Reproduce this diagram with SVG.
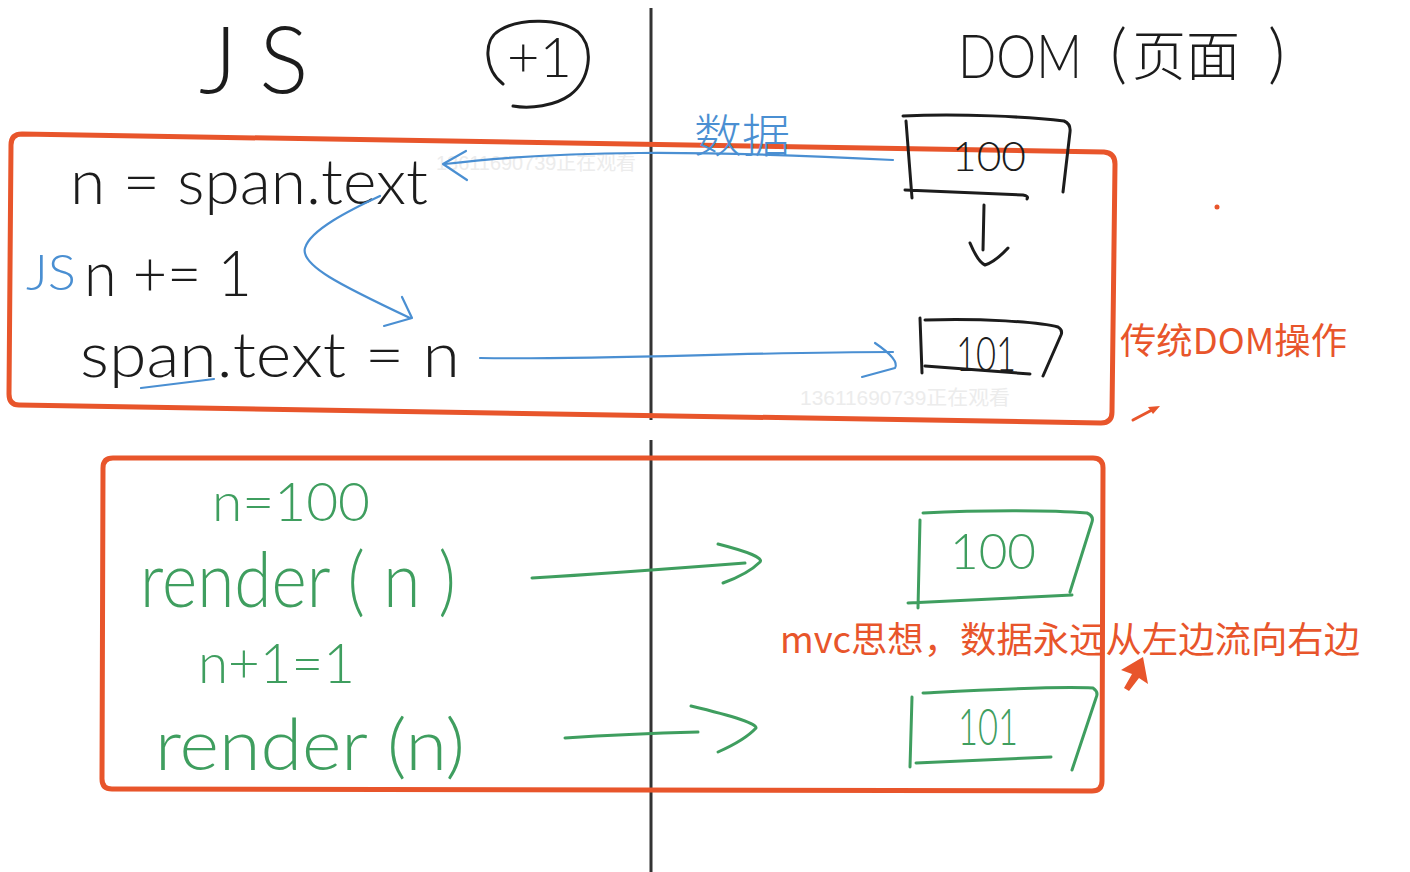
<svg xmlns="http://www.w3.org/2000/svg" width="1410" height="872" viewBox="0 0 1410 872">
<defs>
<style>
.hand{font-family:Lato,"Noto Sans CJK SC","Liberation Sans",sans-serif;font-weight:300}
.cjk{font-family:"Noto Sans CJK SC","Liberation Sans",sans-serif;font-weight:300}
.blk{fill:#1c1c1c}
.blu{fill:#4a8fd2}
.grn{fill:#3f9e5f}
.red{fill:#e8552b;font-family:"Noto Sans CJK SC","Liberation Sans",sans-serif;font-weight:400}
.wm{fill:#ececec;font-family:"Liberation Sans","Noto Sans CJK SC",sans-serif;font-size:20px}
.sk{fill:none;stroke:#1c1c1c;stroke-width:3;stroke-linecap:round;stroke-linejoin:round}
.sb{fill:none;stroke:#4a8fd2;stroke-width:2.2;stroke-linecap:round;stroke-linejoin:round}
.sg{fill:none;stroke:#3f9e5f;stroke-width:3;stroke-linecap:round;stroke-linejoin:round}
.sr{fill:none;stroke:#e8552b;stroke-width:5;stroke-linejoin:round}
</style>
</defs>
<rect width="1410" height="872" fill="#ffffff"/>

<g id="watermarks">
<text class="wm" x="436" y="170" textLength="200" lengthAdjust="spacingAndGlyphs">13611690739正在观看</text>
<text class="wm" x="800" y="405" textLength="210" lengthAdjust="spacingAndGlyphs">13611690739正在观看</text>
</g>

<g id="divider">
<path d="M651,8 L651,420 M651,440 L651,872" fill="none" stroke="#333333" stroke-width="3"/>
</g>

<g id="header-js">
<text class="hand blk" x="199" y="93" font-size="92" letter-spacing="22">JS</text>
</g>
<g id="header-plus-one">
<path class="sk" d="M503,84 C485,70 482,40 500,30 C520,18 560,18 578,32 C595,48 590,80 570,95 C555,106 530,109 513,106"/>
<text class="hand blk" x="507" y="77" font-size="56">+1</text>
</g>
<g id="header-dom">
<text class="hand blk" x="958" y="78" font-size="62" textLength="124" lengthAdjust="spacingAndGlyphs">DOM</text>
<text class="hand blk" x="1110" y="76" font-size="66">(</text>
<text class="cjk blk" x="1132" y="76" font-size="54">页面</text>
<text class="hand blk" x="1268" y="76" font-size="66">)</text>
</g>

<g id="traditional-box">
<path class="sr" d="M22,134 L1104,152 Q1115,153 1115,164 L1112,412 Q1112,423 1101,423 L19,405 Q9,405 9,394 L11,145 Q11,134 22,134 Z"/>
</g>
<g id="mvc-box">
<path class="sr" d="M113,458 L1093,458 Q1103,458 1103,468 L1102,781 Q1102,791 1092,791 L112,789 Q102,789 102,779 L103,468 Q103,458 113,458 Z"/>
</g>

<g id="js-code-traditional">
<text class="hand blk" x="70" y="204" font-size="64" textLength="358" lengthAdjust="spacingAndGlyphs">n = span.text</text>
<text class="hand blu" x="26" y="290" font-size="50" textLength="50" lengthAdjust="spacingAndGlyphs">JS</text>
<text class="hand blk" x="84" y="296" font-size="64" textLength="168" lengthAdjust="spacingAndGlyphs">n += 1</text>
<text class="hand blk" x="80" y="377" font-size="64" textLength="380" lengthAdjust="spacingAndGlyphs">span.text = n</text>
</g>

<g id="label-data">
<text class="cjk blu" x="694" y="152" font-size="46" textLength="96" lengthAdjust="spacingAndGlyphs">数据</text>
</g>

<g id="dom-box-100">
<path class="sk" d="M903,116 C960,113 1030,117 1064,121 Q1071,124 1070,132 L1063,192 M906,121 L912,198 M905,190 L1023,195 Q1029,196 1027,199"/>
<text class="hand blk" x="952" y="171" font-size="42" textLength="74" lengthAdjust="spacingAndGlyphs">100</text>
</g>
<g id="dom-box-101">
<path class="sk" d="M920,318 L922,373 M925,320 C980,318 1040,322 1058,327 Q1063,330 1061,335 L1043,376 M925,366 L1030,374"/>
<text class="hand blk" x="956" y="371" font-size="48" textLength="60" lengthAdjust="spacingAndGlyphs">101</text>
</g>

<g id="mvc-code">
<text class="hand grn" x="212" y="521" font-size="54" textLength="158" lengthAdjust="spacingAndGlyphs">n=100</text>
<text class="hand grn" x="140" y="607" font-size="76" textLength="316" lengthAdjust="spacingAndGlyphs">render ( n )</text>
<text class="hand grn" x="198" y="683" font-size="56" textLength="157" lengthAdjust="spacingAndGlyphs">n+1=1</text>
<text class="hand grn" x="155" y="770" font-size="70" textLength="310" lengthAdjust="spacingAndGlyphs">render (n)</text>
</g>

<g id="view-box-100">
<path class="sg" d="M920,520 L918,608 M923,513 C980,510 1050,510 1087,513 Q1094,516 1092,522 L1070,592 M908,603 L1072,595"/>
<text class="hand grn" x="950" y="569" font-size="50" textLength="86" lengthAdjust="spacingAndGlyphs">100</text>
</g>
<g id="view-box-101">
<path class="sg" d="M912,697 L910,767 M923,693 C980,690 1050,686 1093,688 Q1099,692 1096,698 L1072,770 M916,763 L1051,757"/>
<text class="hand grn" x="958" y="745" font-size="52" textLength="60" lengthAdjust="spacingAndGlyphs">101</text>
</g>

<g id="annotations">
<text class="red" x="1120" y="354" font-size="36" textLength="227" lengthAdjust="spacingAndGlyphs">传统DOM操作</text>
<text class="red" x="780" y="653" font-size="36" textLength="580" lengthAdjust="spacingAndGlyphs">mvc思想，数据永远从左边流向右边</text>
<circle cx="1217" cy="207" r="2.5" fill="#e8552b"/>
</g>

<g id="connectors">
<path class="sb" d="M445,164 C560,150 700,150 893,160"/>
<path class="sb" d="M466,151 L443,164 L467,180"/>
<path class="sb" d="M380,196 C350,210 310,230 305,248 C300,265 340,285 410,318"/>
<path class="sb" d="M402,297 L412,318 L384,326"/>
<path class="sb" d="M141,388 L214,379"/>
<path class="sb" d="M480,358 C600,360 750,352 893,352"/>
<path class="sb" d="M875,343 Q900,360 895,368 L862,377" stroke-width="3"/>
<path class="sk" d="M984,205 L983,250 M970,243 Q978,262 985,265 Q995,262 1008,248"/>
<path class="sg" d="M532,578 C600,574 680,568 745,563 M718,544 Q765,556 760,562 Q748,574 723,583"/>
<path class="sg" d="M565,738 C610,735 660,733 698,732 M691,706 Q758,722 756,728 Q745,740 718,752"/>
<path d="M1133,420 L1152,410" fill="none" stroke="#e8552b" stroke-width="3" stroke-linecap="round"/>
<path d="M1160,406 L1148,407 L1153,414 Z" fill="#e8552b"/>
<path d="M1143,657 L1148,684 L1139,678 L1129,691 L1124,688 L1132,674 L1121,670 Z" fill="#e8552b"/>
</g>
</svg>
